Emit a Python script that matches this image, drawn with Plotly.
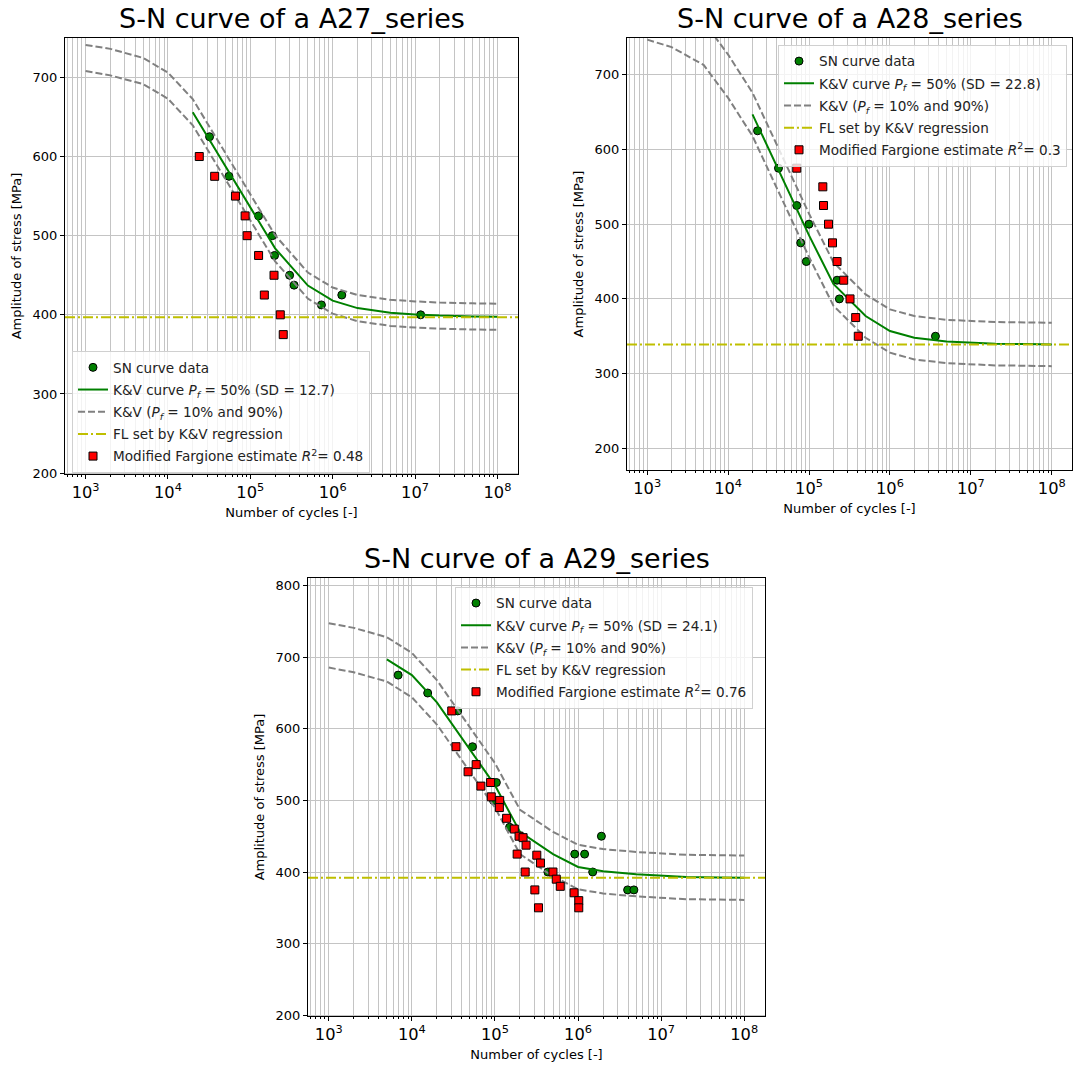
import plotly.graph_objects as go

W, H = 1073, 1071

# common N grid of the K&V curves
kv_N = [1e3, 2e3, 5e3, 1e4, 2e4, 5e4, 1e5, 2e5, 5e5, 1e6, 2e6, 5e6, 1e7, 2e7, 5e7, 1e8]

# ---------------- A27 ----------------
a27_data_N = [32000, 55000, 126000, 185000, 197000, 300000, 340000, 730000, 1290000, 11700000]
a27_data_S = [625, 575, 525, 500, 475, 450, 437.5, 412.5, 425, 400]
a27_mf_N = [24000, 36900, 66000, 86500, 91500, 126000, 194000, 148000, 231000, 251000]
a27_mf_S = [600, 575, 550, 525, 500, 475, 450, 425, 400, 375]
a27_kv50 = [None, None, None, None, 656, 587, 535, 484, 437, 418, 408.5, 402.5, 400.5, 399, 398, 397.5]
a27_kv90 = [741, 736, 724.5, 706, 672.5, 603.5, 551.5, 500.5, 453.5, 434.5, 425, 419, 417, 415.5, 414.5, 414]
a27_kv10 = [708, 702.5, 691.5, 673, 639.5, 570.5, 518.5, 467.5, 420.5, 401.5, 392, 386, 384, 382.5, 381.5, 381]
a27_FL = 397
a27_SD = "12.7"
a27_R2 = "0.48"

# ---------------- A28 ----------------
a28_data_N = [23100, 41900, 70500, 99800, 78900, 92500, 222000, 237000, 3650000]
a28_data_S = [625, 575, 525, 500, 475, 450, 425, 400, 350]
a28_mf_N = [70500, 148000, 151000, 174000, 195000, 222000, 268000, 321000, 377000, 406000]
a28_mf_S = [575, 550, 525, 500, 475, 450, 425, 400, 375, 350]
a28_kv50 = [None, None, None, None, 647, 556, 485, 420, 377, 357, 348, 343, 341, 340, 339.5, 339]
a28_kv90 = [805, 795, 771, 727, 676, 585, 514, 449, 406, 386, 377, 372, 370, 369, 368.5, 368]
a28_kv10 = [747, 737, 713, 669, 618, 527, 456, 391, 348, 328, 319, 314, 312, 311, 310.5, 310]
a28_FL = 339
a28_SD = "22.8"
a28_R2 = "0.3"

# ---------------- A29 ----------------
a29_data_N = [6840, 15500, 35600, 53700, 104000, 96000, 150000, 434000, 912000, 1200000, 1910000, 1500000, 3950000, 4700000]
a29_data_S = [675, 650, 625, 575, 525, 500, 462.5, 400, 425, 425, 450, 400, 375, 375]
a29_mf_N = [30200, 34000, 47500, 59400, 67700, 88600, 90300, 114000, 113000, 138000, 171000, 195000,
            218000, 237000, 185000, 231000, 319000, 353000, 499000, 547000, 611000, 302000, 334000,
            896000, 1020000, 1020000]
a29_mf_S = [625, 575, 540, 550, 520, 525, 505, 500, 490, 475, 460, 450,
            448, 437.5, 425, 400, 423.5, 412.5, 400, 390, 380, 375, 350,
            371, 360, 350]
a29_kv50 = [None, None, 697, 675, 637, 571, 521, 456, 425, 407, 401, 397, 394.5, 393, 392.5, 392]
a29_kv90 = [747.5, 741, 728, 706, 668, 602, 552, 487, 456, 438, 432, 428, 425.5, 424, 423.5, 423]
a29_kv10 = [685.5, 679, 666, 644, 606, 540, 490, 425, 394, 376, 370, 366, 363.5, 362, 361.5, 361]
a29_FL = 392
a29_SD = "24.1"
a29_R2 = "0.76"

FONT = "DejaVu Sans"
GRID = "#c4c4c4"
X_RANGE = [2.75, 8.25]

panels = [
    dict(name="A27", xa="x", ya="y", leg="legend",
         data_N=a27_data_N, data_S=a27_data_S, mf_N=a27_mf_N, mf_S=a27_mf_S,
         kv50=a27_kv50, kv90=a27_kv90, kv10=a27_kv10, FL=a27_FL, SD=a27_SD, R2=a27_R2,
         px=(65, 518), py=(38, 477), yr=[198.5, 750],
         legpos=(72, 353)),
    dict(name="A28", xa="x2", ya="y2", leg="legend2",
         data_N=a28_data_N, data_S=a28_data_S, mf_N=a28_mf_N, mf_S=a28_mf_S,
         kv50=a28_kv50, kv90=a28_kv90, kv10=a28_kv10, FL=a28_FL, SD=a28_SD, R2=a28_R2,
         px=(627, 1072), py=(38, 473), yr=[170.5, 749.5],
         legpos=(778, 45)),
    dict(name="A29", xa="x3", ya="y3", leg="legend3",
         data_N=a29_data_N, data_S=a29_data_S, mf_N=a29_mf_N, mf_S=a29_mf_S,
         kv50=a29_kv50, kv90=a29_kv90, kv10=a29_kv10, FL=a29_FL, SD=a29_SD, R2=a29_R2,
         px=(308, 765), py=(581, 1022), yr=[198.5, 811],
         legpos=(455, 590)),
]

fig = go.Figure()
layout = dict(width=W, height=H, margin=dict(l=0, r=0, t=0, b=0),
              paper_bgcolor="white", plot_bgcolor="white",
              font=dict(family=FONT, size=13, color="black"), annotations=[])

for p in panels:
    pre = p["name"]
    common = dict(xaxis=p["xa"], yaxis=p["ya"], legend=p["leg"])
    fig.add_trace(go.Scatter(x=p["data_N"], y=p["data_S"], mode="markers", name="SN curve data",
                             legendgroup=pre + "a",
                             marker=dict(symbol="circle", size=8, color="green",
                                         line=dict(color="black", width=1)), **common))
    fig.add_trace(go.Scatter(x=kv_N, y=p["kv50"], mode="lines",
                             name=f"K&amp;V curve <i>P<sub>f</sub></i> = 50% (SD = {p['SD']})",
                             legendgroup=pre + "b",
                             line=dict(color="green", width=2), **common))
    fig.add_trace(go.Scatter(x=kv_N, y=p["kv90"], mode="lines",
                             name="K&amp;V (<i>P<sub>f</sub></i> = 10% and 90%)",
                             legendgroup=pre + "c",
                             line=dict(color="gray", width=2, dash="7px,3px"), **common))
    fig.add_trace(go.Scatter(x=kv_N, y=p["kv10"], mode="lines", showlegend=False,
                             name="K&amp;V (<i>P<sub>f</sub></i> = 10% and 90%)",
                             legendgroup=pre + "c",
                             line=dict(color="gray", width=2, dash="7px,3px"), **common))
    fig.add_trace(go.Scatter(x=[10 ** X_RANGE[0], 10 ** X_RANGE[1]], y=[p["FL"], p["FL"]], mode="lines",
                             name="FL set by K&amp;V regression",
                             legendgroup=pre + "d",
                             line=dict(color="#bfbf00", width=2, dash="10px,3px,2px,3px"), **common))
    fig.add_trace(go.Scatter(x=p["mf_N"], y=p["mf_S"], mode="markers",
                             name=f"Modified Fargione estimate <i>R</i><sup>2</sup>= {p['R2']}",
                             legendgroup=pre + "e",
                             marker=dict(symbol="square", size=8, color="red",
                                         line=dict(color="black", width=1)), **common))

    x0, x1 = p["px"]
    y0, y1 = p["py"]
    xkey = "xaxis" + p["xa"][1:]
    ykey = "yaxis" + p["ya"][1:]
    layout[xkey] = dict(
        type="log", range=X_RANGE, domain=[x0 / W, x1 / W], anchor=p["ya"],
        dtick=1, exponentformat="power", showexponent="all",
        showgrid=True, gridcolor=GRID, gridwidth=1,
        ticks="outside", ticklen=4, tickcolor="black",
        minor=dict(dtick="D1", showgrid=True, gridcolor=GRID, gridwidth=1,
                   ticks="outside", ticklen=2, tickcolor="black"),
        showline=True, linecolor="black", linewidth=1, mirror=True,
        zeroline=False,
        title=dict(text="Number of cycles [-]", font=dict(size=13), standoff=6),
        tickfont=dict(size=13),
    )
    layout[ykey] = dict(
        range=p["yr"], domain=[1 - y1 / H, 1 - y0 / H], anchor=p["xa"],
        dtick=100, tick0=0,
        showgrid=True, gridcolor=GRID, gridwidth=1,
        ticks="outside", ticklen=4, tickcolor="black",
        showline=True, linecolor="black", linewidth=1, mirror=True,
        zeroline=False,
        title=dict(text="Amplitude of stress [MPa]", font=dict(size=13), standoff=8),
        tickfont=dict(size=13),
    )
    lx, ly = p["legpos"]
    layout[p["leg"]] = dict(x=lx / W, y=1 - ly / H, xanchor="left", yanchor="top",
                            bgcolor="rgba(255,255,255,0.8)", bordercolor="#d0d0d0", borderwidth=1,
                            font=dict(family=FONT, size=13.6, color="#222"),
                            traceorder="grouped", tracegroupgap=1.5, itemwidth=30)
    layout["annotations"].append(dict(
        text=f"S-N curve of a {p['name']}_series", xref="paper", yref="paper",
        x=(x0 + x1) / 2 / W, y=1 - (y0 - 19) / H, xanchor="center", yanchor="middle",
        showarrow=False, font=dict(family=FONT, size=27, color="black")))

fig.update_layout(**layout)
fig.write_html("out.html")
